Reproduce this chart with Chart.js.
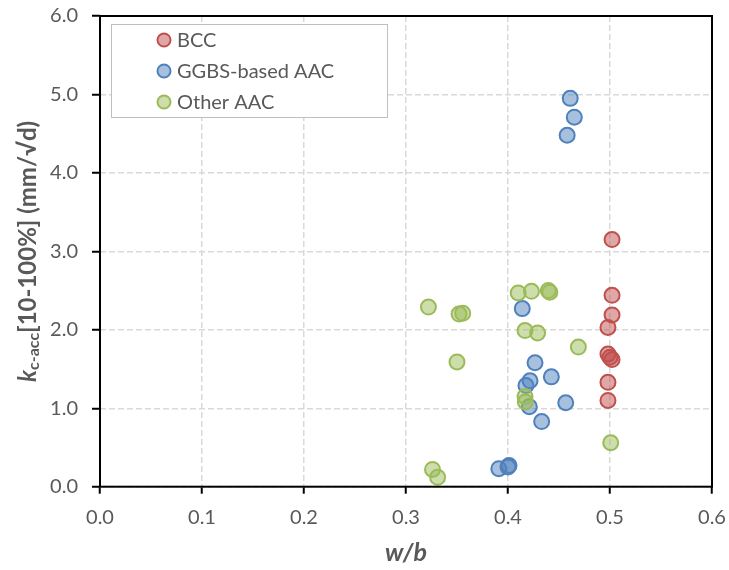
<!DOCTYPE html>
<html>
<head>
<meta charset="utf-8">
<script src="https://cdn.jsdelivr.net/npm/chart.js@4"></script>
<style>
  body { margin: 0; background: #fff; }
  #wrap { width: 729px; height: 570px; }
</style>
</head>
<body>
<div id="wrap"><canvas id="myChart" width="729" height="570"></canvas></div>
<script>
// w/b ratio and carbonation rate
var bccX = [0.502, 0.502, 0.502, 0.498, 0.498, 0.502, 0.500, 0.498, 0.498];
var bccY = [3.15, 2.44, 2.19, 2.03, 1.69, 1.62, 1.65, 1.33, 1.10];

var ggbsX = [0.461, 0.465, 0.458, 0.414, 0.4265, 0.4425, 0.4216, 0.4176, 0.4209, 0.4566, 0.433, 0.391, 0.400, 0.401];
var ggbsY = [4.95, 4.71, 4.48, 2.27, 1.58, 1.40, 1.35, 1.29, 1.02, 1.07, 0.83, 0.23, 0.25, 0.27];

var otherX = [0.410, 0.423, 0.4395, 0.441, 0.322, 0.352, 0.3556, 0.4167, 0.429, 0.469, 0.350, 0.4167, 0.417, 0.5007, 0.326, 0.331];
var otherY = [2.47, 2.49, 2.50, 2.48, 2.29, 2.20, 2.21, 1.99, 1.96, 1.78, 1.59, 1.15, 1.08, 0.56, 0.22, 0.12];

var seriesNames = ['BCC', 'GGBS-based AAC', 'Other AAC'];

function toPoints(xs, ys) {
  return xs.map(function (x, i) { return { x: x, y: ys[i] }; });
}

var FONT = 'Lato, "Open Sans", sans-serif';
var TEXT = '#595959';

// plot frame, legend box and axis titles
var extras = {
  id: 'extras',
  afterDatasetsDraw: function (chart) {
    var ctx = chart.ctx, a = chart.chartArea;
    ctx.save();
    ctx.strokeStyle = '#000';
    ctx.lineWidth = 2;
    ctx.strokeRect(a.left, a.top, a.right - a.left, a.bottom - a.top);

    // legend
    ctx.fillStyle = '#fff';
    ctx.fillRect(111, 24, 276, 93);
    ctx.strokeStyle = '#bfbfbf';
    ctx.lineWidth = 1;
    ctx.strokeRect(111.5, 24.5, 276, 93);
    ctx.font = '20px ' + FONT;
    ctx.textBaseline = 'middle';
    chart.data.datasets.forEach(function (ds, i) {
      var y = 40 + i * 31;
      ctx.beginPath();
      ctx.arc(164, y, 6.5, 0, Math.PI * 2);
      ctx.fillStyle = ds.backgroundColor;
      ctx.fill();
      ctx.strokeStyle = ds.borderColor;
      ctx.lineWidth = 2;
      ctx.stroke();
      ctx.fillStyle = TEXT;
      ctx.fillText(ds.label, 177, y + 1);
    });

    // x title
    ctx.font = 'italic bold 25px ' + FONT;
    ctx.textAlign = 'center';
    ctx.fillText('w/b', (a.left + a.right) / 2, 553);

    // y title with subscript
    var parts = [
      { t: 'k', f: 'italic bold 24px ' + FONT, dy: 0 },
      { t: 'c-acc', f: 'bold 16px ' + FONT, dy: 6 },
      { t: '[10-100%] (mm/\u221Ad)', f: 'bold 24px ' + FONT, dy: 0 }
    ];
    var total = 0;
    parts.forEach(function (p) { ctx.font = p.f; p.w = ctx.measureText(p.t).width; total += p.w; });
    ctx.translate(28, (a.top + a.bottom) / 2);
    ctx.rotate(-Math.PI / 2);
    ctx.textAlign = 'left';
    ctx.textBaseline = 'middle';
    var x = -total / 2;
    parts.forEach(function (p) {
      ctx.font = p.f;
      ctx.fillText(p.t, x, p.dy);
      x += p.w;
    });
    ctx.restore();
  }
};

var ctx = document.getElementById('myChart');
var myChart = new Chart(ctx, {
  type: 'scatter',
  data: {
    datasets: [
      {
        label: seriesNames[0],
        data: toPoints(bccX, bccY),
        backgroundColor: 'rgba(192,80,77,0.5)',
        borderColor: '#c0504d',
        order: 2
      },
      {
        label: seriesNames[1],
        data: toPoints(ggbsX, ggbsY),
        backgroundColor: 'rgba(79,129,189,0.5)',
        borderColor: '#4f81bd',
        order: 1
      },
      {
        label: seriesNames[2],
        data: toPoints(otherX, otherY),
        backgroundColor: 'rgba(155,187,89,0.5)',
        borderColor: '#9bbb59',
        order: 0
      }
    ]
  },
  options: {
    responsive: false,
    animation: false,
    layout: { padding: { top: 16, right: 17, left: 0, bottom: 0 } },
    elements: { point: { radius: 7.5, borderWidth: 2, hoverRadius: 7.5 } },
    plugins: { legend: { display: false }, tooltip: { enabled: false } },
    scales: {
      x: {
        type: 'linear',
        min: 0, max: 0.6,
        afterFit: function (s) {
          s.height = 83.3;
          s.paddingLeft = 0; s.paddingRight = 0;
        },
        grid: {
          color: '#d9d9d9', lineWidth: 1.5, tickColor: '#000', tickWidth: 2,
          tickLength: 7, tickBorderDash: []
        },
        border: { display: false, dash: [6, 3] },
        ticks: {
          stepSize: 0.1, padding: 12, color: TEXT,
          font: { family: FONT, size: 20 },
          callback: function (v) { return v.toFixed(1); }
        }
      },
      y: {
        min: 0, max: 6,
        afterFit: function (s) {
          s.width = 100;
          s.paddingTop = 0; s.paddingBottom = 0;
        },
        grid: {
          color: '#d9d9d9', lineWidth: 1.5, tickColor: '#000', tickWidth: 2,
          tickLength: 8, tickBorderDash: []
        },
        border: { display: false, dash: [6, 3] },
        ticks: {
          stepSize: 1, padding: 14, color: TEXT,
          font: { family: FONT, size: 20 },
          callback: function (v) { return v.toFixed(1); }
        }
      }
    }
  },
  plugins: [extras]
});
</script>
</body>
</html>
